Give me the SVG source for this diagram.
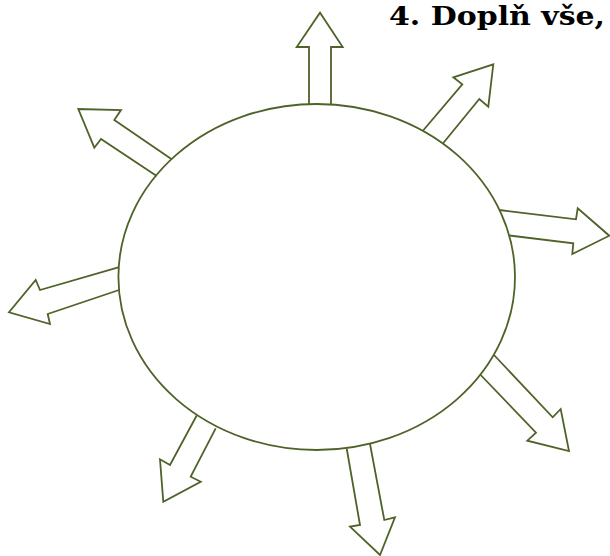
<svg xmlns="http://www.w3.org/2000/svg" width="610" height="556" viewBox="0 0 610 556">
<style>
.a{fill:none;stroke:#4F6228;stroke-width:1.8;stroke-linejoin:miter}
.t{font-family:"DejaVu Serif","Liberation Serif",serif;font-weight:bold;font-size:26px;fill:#000}
</style>
<rect width="610" height="556" fill="#fff"/>
<text class="t" x="389" y="25" textLength="216" lengthAdjust="spacingAndGlyphs">4. Doplň vše,</text>
<g id="arrows">
<polyline id="arrow-n" class="a" points="309,104.5 309,47 296.7,47 320,12.7 342.7,47 331,47 331,104.5"/>
<polyline id="arrow-ne" class="a" points="422.7,131 462.3,84.3 453.3,77.3 493.3,64.3 488.3,106.7 479.3,99 443.3,143"/>
<polyline id="arrow-e" class="a" points="499.3,210 576,219.3 577.7,208.3 609.3,235.7 572.3,254 573.3,243.3 509.3,235.5"/>
<polyline id="arrow-se" class="a" points="494,355 552.7,417.3 560.7,409 569,451 527.3,440.7 536,432.7 480.7,375"/>
<polyline id="arrow-s" class="a" points="370,444 384.3,520 395,517.3 380,555 350,526.7 360,525 346.7,448.5"/>
<polyline id="arrow-sw" class="a" points="215.7,428.3 190.7,476.7 200.7,481.7 163.3,501.7 160,459.3 170,465 196.7,415.5"/>
<polyline id="arrow-w" class="a" points="119,290 47.7,314 50,324 9,312.3 35.7,280 40,290 118.3,267.3"/>
<polyline id="arrow-nw" class="a" points="156.7,176 101,139 94.3,147.7 78.3,109 121,110 114.3,120 171.7,159.3"/>
</g>
<g id="circle">
<ellipse cx="316.7" cy="277" rx="198.3" ry="173" fill="none" stroke="#4F6228" stroke-width="1.8"/>
</g>
</svg>
